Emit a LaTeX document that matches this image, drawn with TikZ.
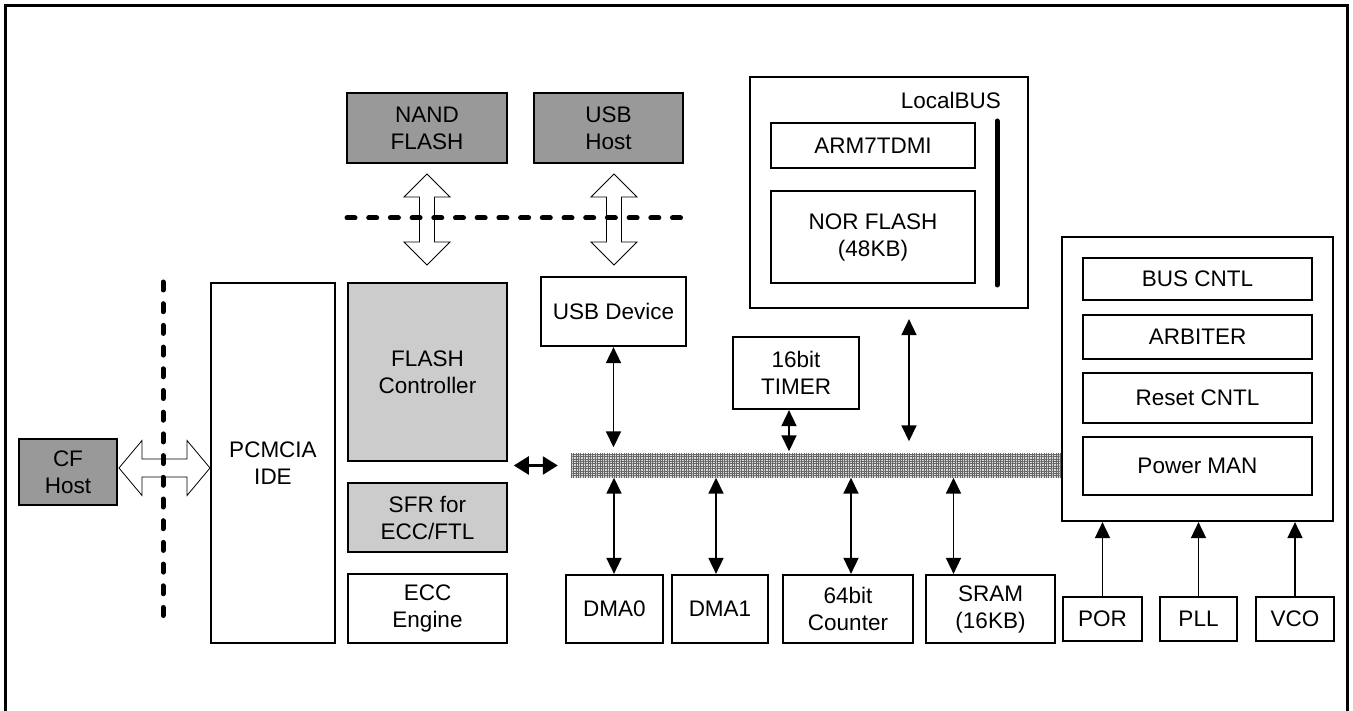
\documentclass[tikz,border=0pt]{standalone}
\usepackage{fontspec}
\setmainfont{Liberation Sans}
\usepackage{tikz}
\usetikzlibrary{arrows.meta}
\usetikzlibrary{patterns.meta}
\usetikzlibrary{positioning}

\newcommand{\blkfont}{\fontsize{22.5}{27}\selectfont}

\tikzset{
  blk/.style={draw,line width=2.2pt,inner sep=0pt,align=center,font=\blkfont},
  sub/.style={draw,line width=1.3pt,inner sep=0pt,align=center,font=\blkfont},
  dark/.style={blk,fill=black!40},
  light/.style={blk,fill=black!20},
  bus/.style={inner sep=0pt,fill=black!15,postaction={pattern={Hatch[distance=2.4pt,angle=0,line width=0.9pt]},pattern color=black!60}},
  link/.style={line width=1.7pt,{Triangle[length=16pt,width=15pt]}-{Triangle[length=16pt,width=15pt]}},
  feed/.style={line width=1.7pt,-{Triangle[length=16pt,width=15pt]}},
  cut/.style={line width=5pt,line cap=round,dash pattern=on 8pt off 13.7pt},
  pics/fatlink/.style n args={3}{code={
    \draw[line width=0.8pt,fill=white] (-#1,0) -- (-#1+23,#3) -- (-#1+23,#2) -- (#1-23,#2) -- (#1-23,#3)
      -- (#1,0) -- (#1-23,-#3) -- (#1-23,-#2) -- (-#1+23,-#2) -- (-#1+23,-#3) -- cycle;
  }}
}

\begin{document}
\begin{tikzpicture}[x=1pt,y=-1pt]
\useasboundingbox (0,0) rectangle (1353,711);

% outer frame
\draw[line width=3pt] (5,711) -- (5,6) -- (1347,6) -- (1347,711);

% external side
\node[dark,minimum width=98pt,minimum height=66pt] (cfhost) at (68,472) {CF\\Host};
\node[dark,minimum width=160pt,minimum height=70pt] (nand) at (427,128) {NAND\\FLASH};
\node[dark,minimum width=149pt,minimum height=70pt] (usbhost) at (608.5,128) {USB\\Host};

\pic at (164.5,468) {fatlink={45.5}{9}{27.5}};
\pic[rotate=90] at (427,219.5) {fatlink={45.5}{7.5}{23}};
\pic[rotate=90] at (614,219.5) {fatlink={45.5}{7.5}{23}};

\draw[cut] (163,282) -- (163,623);
\draw[cut] (347,218) -- (683,218);

% host interface and flash side
\node[blk,minimum width=124pt,minimum height=360pt] (pcmcia) at (273,463) {PCMCIA\\IDE};
\node[light,minimum width=159pt,minimum height=178pt] (flashctl) at (427.5,372) {FLASH\\Controller};
\node[light,minimum width=159pt,minimum height=69pt] (sfr) at (427.5,517.5) {SFR for\\ECC/FTL};
\node[blk,minimum width=159pt,minimum height=69pt] (ecc) at (427.5,608.5) {ECC\\Engine};

% system bus
\node[bus,minimum width=491pt,minimum height=24pt] (sysbus) at (816.5,465.5) {};
\draw[line width=2.4pt,{Triangle[length=15pt,width=18pt]}-{Triangle[length=15pt,width=18pt]}]
  ([xshift=-57pt]sysbus.west) -- ([xshift=-13pt]sysbus.west);

\node[blk,minimum width=145pt,minimum height=69pt] (usbdev) at (613.5,311.5) {USB Device};
\node[blk,minimum width=126pt,minimum height=72pt] (timer) at (796,373) {16bit\\TIMER};

% local bus block
\node[blk,minimum width=278pt,minimum height=231pt] (local) at (889,192.5) {};
\node[anchor=east,font=\blkfont,inner sep=0pt] (localname) at (1001,100) {LocalBUS};
\node[sub,minimum width=204pt,minimum height=45pt] (arm) at (873,145.5) {ARM7TDMI};
\node[sub,minimum width=204pt,minimum height=92pt] (nor) at (873,237) {NOR FLASH\\(48KB)};
\draw[line width=5pt,line cap=round] (997,121) -- (997,285);

% system control block
\node[blk,minimum width=271pt,minimum height=284pt] (sysctl) at (1197.5,379) {};
\node[sub,minimum width=229pt,minimum height=42pt] (buscntl) at (1197.5,279) {BUS CNTL};
\node[sub,minimum width=229pt,minimum height=44pt] (arbiter) at (1197.5,337) {ARBITER};
\node[sub,minimum width=229pt,minimum height=50pt] (rstcntl) at (1197.5,398) {Reset CNTL};
\node[sub,minimum width=229pt,minimum height=58pt] (pwrman) at (1197.5,466) {Power MAN};

% bus slaves
\node[blk,minimum width=97pt,minimum height=68pt] (dma0) at (614.5,609) {DMA0};
\node[blk,minimum width=96pt,minimum height=68pt] (dma1) at (720,609) {DMA1};
\node[blk,minimum width=130pt,minimum height=68pt] (counter) at (848,609) {64bit\\Counter};
\node[blk,minimum width=129pt,minimum height=68pt] (sram) at (990.5,609) {SRAM\\(16KB)};

\node[blk,minimum width=79pt,minimum height=44pt] (por) at (1102.5,619) {POR};
\node[blk,minimum width=77pt,minimum height=44pt] (pll) at (1198.5,619) {PLL};
\node[blk,minimum width=78pt,minimum height=44pt] (vco) at (1295,619) {VCO};

% connections to the bus
\draw[link,shorten >=6pt] (usbdev.south) -- (usbdev.south |- sysbus.north);
\draw[link,shorten >=2pt] ([xshift=-7pt]timer.south) -- ([xshift=-7pt]timer.south |- sysbus.north);
\draw[link,shorten <=10pt,shorten >=12pt] ([xshift=20pt]local.south) -- ([xshift=20pt]local.south |- sysbus.north);

\draw[link] ([xshift=-0.5pt]dma0.north |- sysbus.south) -- ([xshift=-0.5pt]dma0.north);
\draw[link] ([xshift=-4pt]dma1.north |- sysbus.south) -- ([xshift=-4pt]dma1.north);
\draw[link] ([xshift=3pt]counter.north |- sysbus.south) -- ([xshift=3pt]counter.north);
\draw[link] ([xshift=-37pt]sram.north |- sysbus.south) -- ([xshift=-37pt]sram.north);

\draw[feed] (por.north) -- (por.north |- sysctl.south);
\draw[feed] (pll.north) -- (pll.north |- sysctl.south);
\draw[feed] (vco.north) -- (vco.north |- sysctl.south);
\end{tikzpicture}
\end{document}
